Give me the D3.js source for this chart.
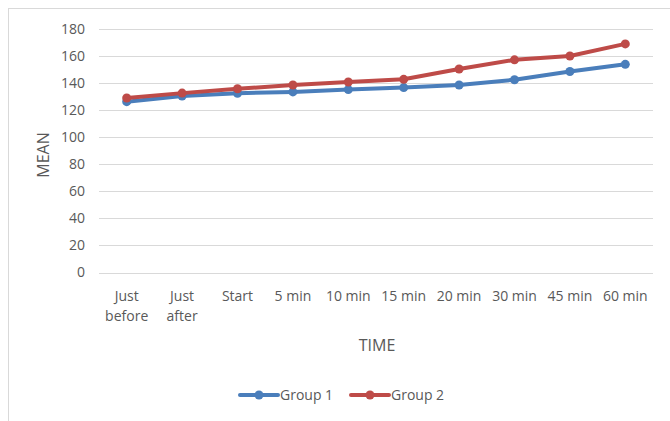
<!DOCTYPE html>
<html><head><meta charset="utf-8">
<script src="https://cdn.jsdelivr.net/npm/d3@7"></script>
<style>body{margin:0;background:#fff;} text{font-family:"Open Sans","Liberation Sans",sans-serif;}</style>
</head><body>
<svg id="c" width="670" height="421"></svg>
<script>
const categories = [["Just","before"],["Just","after"],["Start"],["5 min"],["10 min"],["15 min"],["20 min"],["30 min"],["45 min"],["60 min"]];
const group1 = [126.3, 130.4, 132.5, 133.5, 135.2, 136.7, 138.6, 142.5, 148.6, 153.9];
const group2 = [129.0, 132.6, 135.8, 138.6, 140.8, 142.8, 150.4, 157.2, 160.0, 169.0];
const yTicks = [0,20,40,60,80,100,120,140,160,180];
const seriesNames = ["Group 1","Group 2"];
const colors = ["#4a7ebb","#be4b48"];

const svg = d3.select("#c");
svg.append("rect").attr("x",8.5).attr("y",8.5).attr("width",700).attr("height",500)
  .attr("fill","none").attr("stroke","#d9d9d9");

const x = d3.scaleBand().domain(categories.map((d,i)=>i)).range([99,653]);
const y = d3.scaleLinear().domain([0,180]).range([272.5,29]);

const grid = svg.append("g");
yTicks.forEach(t=>{
  grid.append("line").attr("x1",99).attr("x2",653).attr("y1",Math.round(y(t))+0.5).attr("y2",Math.round(y(t))+0.5)
    .attr("stroke","#d9d9d9").attr("stroke-width",1);
});
const yAxis = d3.axisLeft(y).tickValues(yTicks).tickSize(0).tickPadding(0);
const ga = svg.append("g").attr("transform","translate(85,0)").call(yAxis);
ga.select(".domain").remove();
ga.selectAll("text").attr("fill","#595959").style("font-size","14px").attr("text-anchor","end");

const xg = svg.append("g");
categories.forEach((c,i)=>{
  const t = xg.append("text").attr("x",x(i)+x.bandwidth()/2).attr("y",301)
    .attr("text-anchor","middle").attr("fill","#595959").style("font-size","14px");
  c.forEach((s,j)=>t.append("tspan").attr("x",x(i)+x.bandwidth()/2).attr("dy",j===0?0:20).text(s));
});

svg.append("text").attr("transform","translate(49,155) rotate(-90)").attr("text-anchor","middle")
  .attr("fill","#595959").style("font-size","16px").text("MEAN");
svg.append("text").attr("x",377).attr("y",351).attr("text-anchor","middle")
  .attr("fill","#595959").style("font-size","16px").text("TIME");

const line = d3.line().x((d,i)=>x(i)+x.bandwidth()/2).y(d=>y(d));
[group1,group2].forEach((s,k)=>{
  svg.append("path").datum(s).attr("d",line).attr("fill","none").attr("stroke",colors[k])
    .attr("stroke-width",4).attr("stroke-linejoin","round").attr("stroke-linecap","round");
  svg.selectAll(null).data(s).enter().append("circle").attr("cx",(d,i)=>x(i)+x.bandwidth()/2)
    .attr("cy",d=>y(d)).attr("r",4.5).attr("fill",colors[k]);
});

const legX = [240,351];
seriesNames.forEach((n,k)=>{
  const g = svg.append("g");
  g.append("line").attr("x1",legX[k]).attr("x2",legX[k]+38).attr("y1",395).attr("y2",395)
    .attr("stroke",colors[k]).attr("stroke-width",4).attr("stroke-linecap","round");
  g.append("circle").attr("cx",legX[k]+19).attr("cy",395).attr("r",4.5).attr("fill",colors[k]);
  g.append("text").attr("x",legX[k]+40).attr("y",400).attr("fill","#595959").style("font-size","14px").text(n);
});
</script>
</body></html>
